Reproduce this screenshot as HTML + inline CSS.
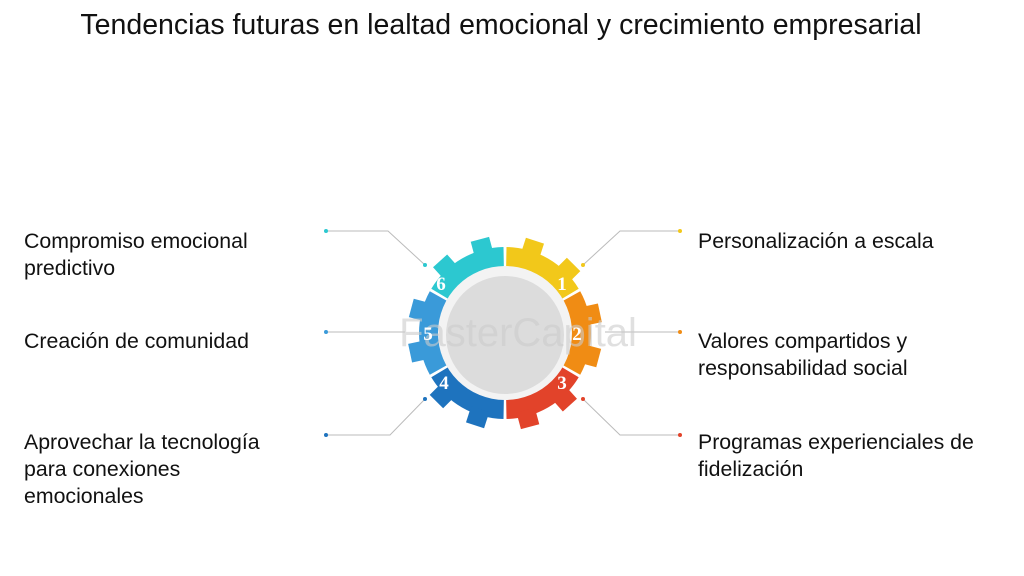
<!DOCTYPE html>
<html><head><meta charset="utf-8"><style>
body{margin:0;width:1024px;height:576px;background:#fff;font-family:"Liberation Sans",sans-serif;color:#111;position:relative;overflow:hidden}
.t{position:absolute;top:9px;left:0;width:1002px;text-align:center;font-size:28.5px;white-space:nowrap}
.l{position:absolute;font-size:21.3px;line-height:27px;white-space:nowrap}
</style></head><body>
<div class="t">Tendencias futuras en lealtad emocional y crecimiento empresarial</div>
<div class="l" style="left:24px;top:228px">Compromiso emocional<br>predictivo</div>
<div class="l" style="left:24px;top:328px">Creación de comunidad</div>
<div class="l" style="left:24px;top:429px">Aprovechar la tecnología<br>para conexiones<br>emocionales</div>
<div class="l" style="left:698px;top:228px">Personalización a escala</div>
<div class="l" style="left:698px;top:328px">Valores compartidos y<br>responsabilidad social</div>
<div class="l" style="left:698px;top:429px">Programas experienciales de<br>fidelización</div>
<svg width="1024" height="576" style="position:absolute;left:0;top:0">
<g stroke="#bbb" stroke-width="1" fill="none">
<polyline points="326,231 388,231 425,265"/>
<line x1="326" y1="332" x2="405" y2="332"/>
<polyline points="326,435 390,435 425,399"/>
<polyline points="680,231 620,231 583,265"/>
<line x1="680" y1="332" x2="605" y2="332"/>
<polyline points="680,435 620,435 583,399"/>
</g>
<g>
<circle cx="326" cy="231" r="2" fill="#2cc8d0"/><circle cx="425" cy="265" r="2" fill="#2cc8d0"/>
<circle cx="326" cy="332" r="2" fill="#3a9ad9"/>
<circle cx="326" cy="435" r="2" fill="#1e73be"/><circle cx="425" cy="399" r="2" fill="#1e73be"/>
<circle cx="680" cy="231" r="2" fill="#f2c81a"/><circle cx="583" cy="265" r="2" fill="#f2c81a"/>
<circle cx="680" cy="332" r="2" fill="#f08c14"/>
<circle cx="680" cy="435" r="2" fill="#e2432a"/><circle cx="583" cy="399" r="2" fill="#e2432a"/>
</g>
<g id="gear" transform="translate(505,333)"></g>
<circle cx="505" cy="333" r="67" fill="#f3f3f3"/>
<circle cx="505" cy="335" r="59" fill="#dcdcdc"/>
<text x="518" y="346" font-size="40" fill="#ccc" text-anchor="middle" font-family="Liberation Sans" opacity="0.6">FasterCapital</text>
<g font-size="19" font-weight="bold" fill="#fff" text-anchor="middle" font-family="Liberation Serif">
<text x="562" y="290">1</text><text x="577" y="340">2</text><text x="562" y="389">3</text>
<text x="444" y="389">4</text><text x="428" y="340">5</text><text x="441" y="290">6</text>
</g>
</svg>
<script>
var cols=["#f2c81a","#f08c14","#e2432a","#1e73be","#3a9ad9","#2cc8d0"];
var g=document.getElementById("gear"),s="";
function p(r,a){a=a*Math.PI/180;return (r*Math.cos(a)).toFixed(1)+","+(r*Math.sin(a)).toFixed(1);}
for(var i=0;i<6;i++){
 var a0=-90+i*60+1,a1=a0+58,c=cols[i];
 var d="M"+p(64,a0)+" L"+p(86,a0)+" A86,86 0 0 1 "+p(86,a1)+" L"+p(64,a1)+" A64,64 0 0 0 "+p(64,a0)+"Z";
 s+='<path d="'+d+'" fill="'+c+'"/>';
 [a0+13,a0+40].forEach(function(t){
  s+='<rect x="80" y="-9.5" width="17" height="19" fill="'+c+'" transform="rotate('+(t+4)+')"/>';
 });
}
g.innerHTML=s;
</script>
</body></html>
